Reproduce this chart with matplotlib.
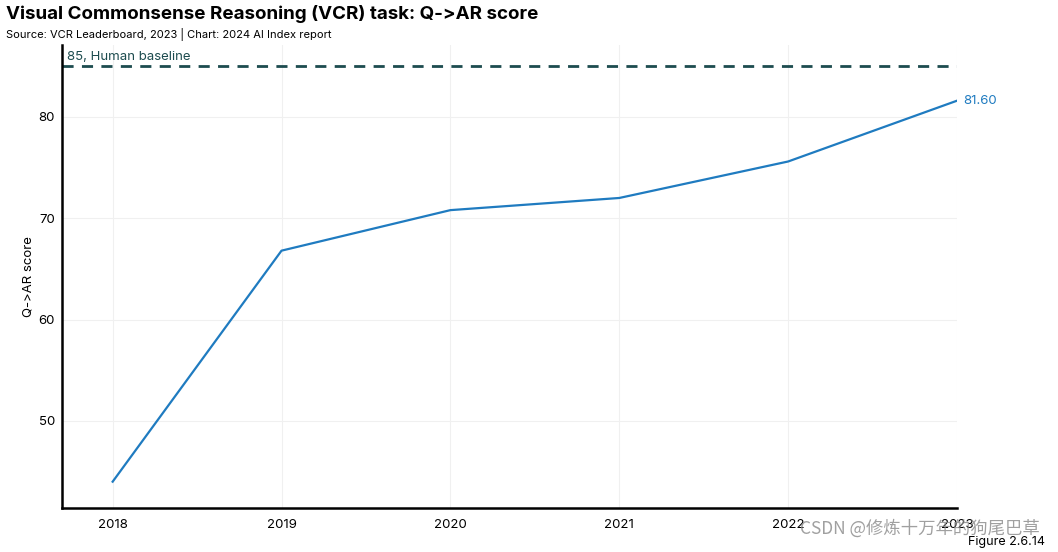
#!/usr/bin/env python3
"""VCR Q->AR score chart (AI Index 2024, fig 2.6.14)."""

import matplotlib
matplotlib.use("Agg")
import matplotlib.pyplot as plt

years = [2018, 2019, 2020, 2021, 2022, 2023]
scores = [44.0, 66.8, 70.8, 72.0, 75.6, 81.6]
human_baseline = 85
yticks = [50, 60, 70, 80]

plt.rcParams["font.family"] = ["Inter", "DejaVu Sans"]

fig = plt.figure(figsize=(10.58, 5.52), dpi=100)
ax = fig.add_axes([0.0586, 0.0797, 0.8459, 0.8388])

ax.plot(years, scores, color="#1f7bc0", linewidth=1.6)
ax.axhline(human_baseline, color="#1d4c4f", linewidth=2, linestyle=(0, (4, 3)))
ax.text(2017.73, human_baseline + 0.35, f"{human_baseline}, Human baseline",
        color="#1d4c4f", fontsize=9.5, va="bottom", ha="left")
ax.text(years[-1] + 0.04, scores[-1], f"{scores[-1]:.2f}",
        color="#1f7bc0", fontsize=9.5, va="center", ha="left")

ax.set_xlim(2017.7, 2023.0)
ax.set_ylim(41.4, 87.1)
ax.set_xticks(years)
ax.set_yticks(yticks)
ax.tick_params(axis="y", length=0, labelsize=9.5, pad=5)
ax.tick_params(axis="x", length=0, labelsize=9.5, pad=8)
ax.grid(color="#f0f0f0", linewidth=0.8)
ax.set_axisbelow(True)
for s in ["top", "right"]:
    ax.spines[s].set_visible(False)
for s in ["left", "bottom"]:
    ax.spines[s].set_linewidth(1.8)
ax.set_ylabel("Q->AR score", fontsize=9.5, labelpad=3)

fig.text(0.006, 0.958, "Visual Commonsense Reasoning (VCR) task: Q->AR score",
         fontsize=13.5, fontweight="bold", va="bottom")
fig.text(0.006, 0.926, "Source: VCR Leaderboard, 2023 | Chart: 2024 AI Index report",
         fontsize=8, va="bottom")
fig.text(0.988, 0.008, "Figure 2.6.14", fontsize=9, ha="right", va="bottom")
fig.text(0.983, 0.025, "CSDN @修炼十万年的狗尾巴草", fontsize=12.5, ha="right",
         va="bottom", color="#888888", alpha=0.8,
         family=["Noto Sans CJK SC", "DejaVu Sans"])

fig.savefig("out.png", dpi=100)
